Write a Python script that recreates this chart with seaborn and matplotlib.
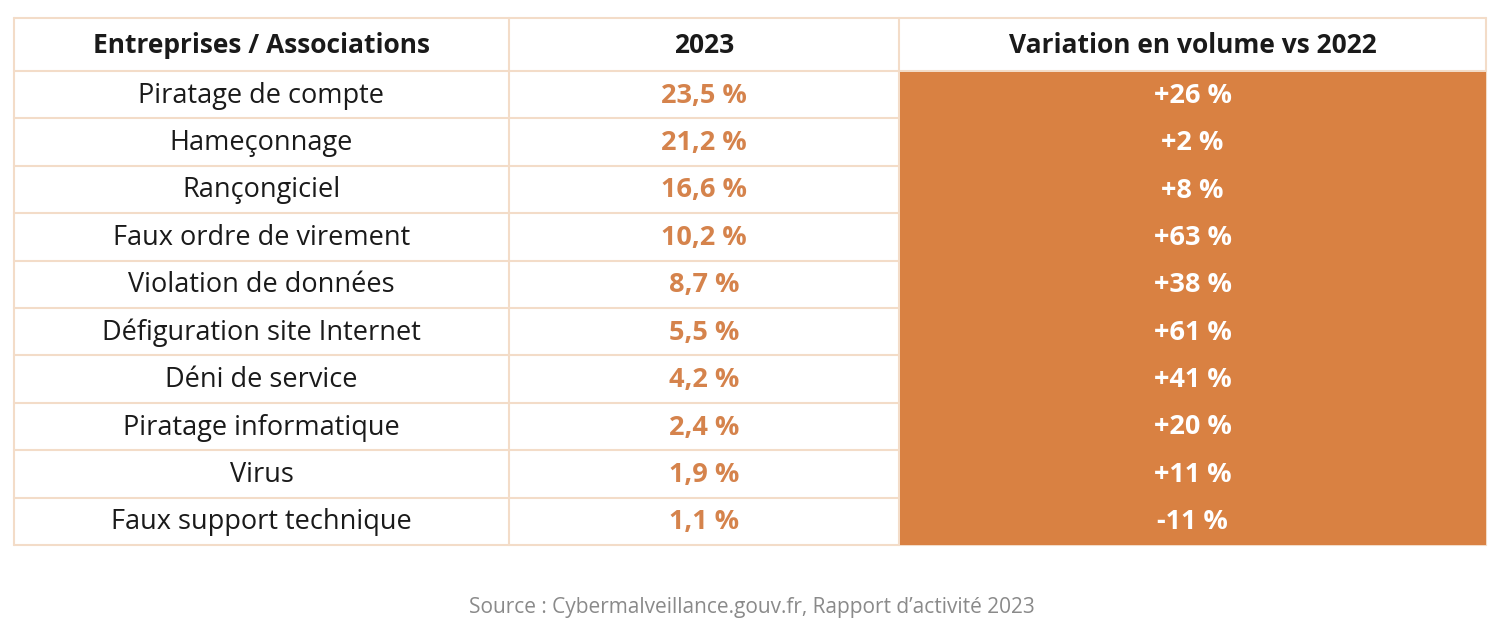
import matplotlib
matplotlib.use("Agg")
import matplotlib.pyplot as plt
import seaborn as sns
import numpy as np
import pandas as pd

categories = ["Piratage de compte", "Hameçonnage", "Rançongiciel", "Faux ordre de virement",
              "Violation de données", "Défiguration site Internet", "Déni de service",
              "Piratage informatique", "Virus", "Faux support technique"]
share_2023 = [23.5, 21.2, 16.6, 10.2, 8.7, 5.5, 4.2, 2.4, 1.9, 1.1]
variation = [26, 2, 8, 63, 38, 61, 41, 20, 11, -11]
headers = ["Entreprises / Associations", "2023", "Variation en volume vs 2022"]
source = "Source : Cybermalveillance.gouv.fr, Rapport d’activité 2023"

sns.set_theme(style="white")
plt.rcParams['font.family'] = ['Open Sans', 'DejaVu Sans']

fig = plt.figure(figsize=(15.04, 6.3), dpi=100)
ax = fig.add_axes([0, 0, 1, 1])
ax.set_xlim(0, 1504); ax.set_ylim(630, 0); ax.axis("off")

xs = [14, 509, 899, 1486]
top, hdr, bottom = 18, 71, 545
n = len(categories)
rh = (bottom - hdr) / n
orange = "#D98142"
line = "#F3DCC8"

# orange column via seaborn heatmap-like fill
ax.add_patch(plt.Rectangle((xs[2], hdr), xs[3]-xs[2], bottom-hdr, color=orange, lw=0))

# grid lines
ys = [top, hdr] + [hdr + rh*(i+1) for i in range(n)]
for y in ys:
    ax.plot([xs[0], xs[3]], [y, y], color=line, lw=1.5, zorder=1)
for x in xs:
    ax.plot([x, x], [top, bottom], color=line, lw=1.5, zorder=1)
# redraw orange over inner lines in orange column
ax.add_patch(plt.Rectangle((xs[2]+1, hdr+1), xs[3]-xs[2]-1, bottom-hdr-1, color=orange, lw=0, zorder=2))

cx = [(xs[i]+xs[i+1])/2 for i in range(3)]
for i, h in enumerate(headers):
    ax.text(cx[i], (top+hdr)/2 + 1, h, ha="center", va="center", fontsize=19,
            fontweight="bold", color="#1a1a1a", zorder=3)

def fmt(v):
    return f"{v:.1f}".replace(".", ",") + " %"

for i in range(n):
    yc = hdr + rh*(i+0.5) + 1
    ax.text(cx[0], yc, categories[i], ha="center", va="center", fontsize=19.5, color="#1a1a1a", zorder=3)
    ax.text(cx[1], yc, fmt(share_2023[i]), ha="center", va="center", fontsize=19.5,
            fontweight="bold", color="#D5834C", zorder=3)
    v = variation[i]
    ax.text(cx[2], yc, (f"+{v}" if v > 0 else f"{v}") + " %", ha="center", va="center",
            fontsize=19.5, fontweight="bold", color="white", zorder=3)

ax.text(752, 607, source, ha="center", va="center", fontsize=15, color="#8a8a8a")

fig.savefig("out.png", dpi=100, facecolor="white")
